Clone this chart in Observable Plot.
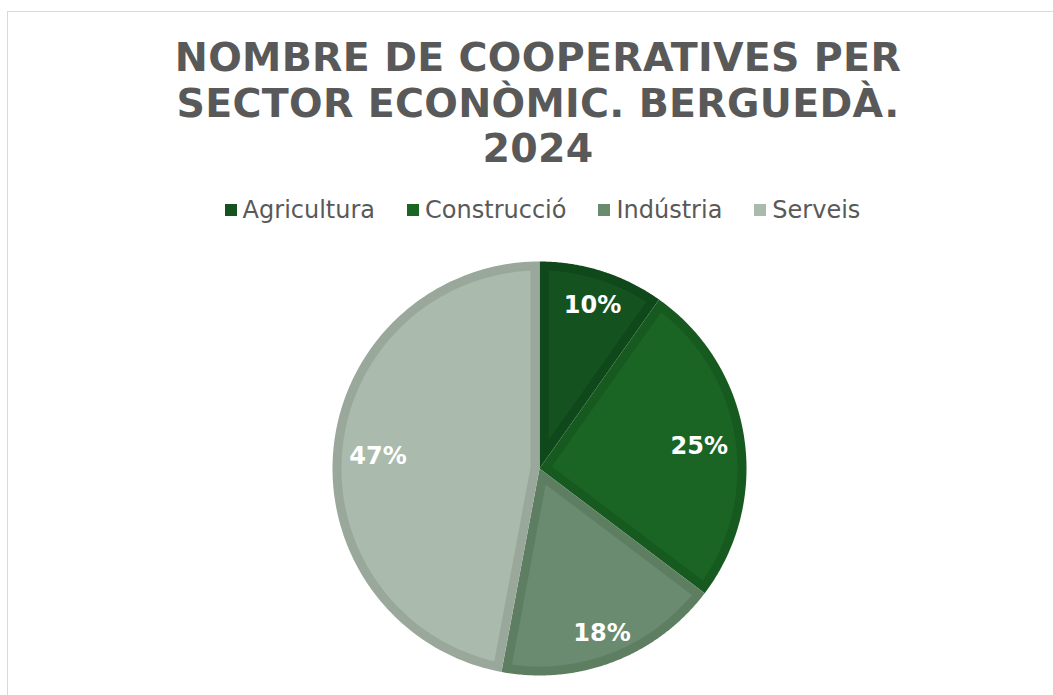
<!DOCTYPE html>
<html>
<head>
<meta charset="utf-8">
<script src="https://cdn.jsdelivr.net/npm/d3@7"></script>
<script src="https://cdn.jsdelivr.net/npm/@observablehq/plot@0.6"></script>
<style>
  html, body { margin: 0; padding: 0; background: #fff; }
  #wrap { position: relative; width: 1053px; height: 695px; overflow: hidden; background: #fff; }
  #frame { position: absolute; left: 7px; top: 11px; width: 1080px; height: 720px; border: 1px solid #d9d9d9; box-sizing: border-box; }
  #title { position: absolute; left: 0; top: 35px; width: 1076px; text-align: center; font-family: "DejaVu Sans", sans-serif; font-weight: bold; font-size: 39.5px; line-height: 45.5px; color: #595959; letter-spacing: 0.3px; }
  #legend { position: absolute; left: 0; top: 196px; width: 1085px; display: flex; justify-content: center; align-items: center; gap: 32px; font-family: "DejaVu Sans", sans-serif; font-size: 24px; color: #595959; }
  #legend .item { display: flex; align-items: center; }
  #legend .sw { width: 12px; height: 12px; margin-right: 6px; }
  #chart { position: absolute; left: 0; top: 240px; }
</style>
</head>
<body>
<div id="wrap">
  <div id="frame"></div>
  <div id="title">NOMBRE DE COOPERATIVES PER<br>SECTOR ECONÒMIC. BERGUEDÀ.<br>2024</div>
  <div id="legend"></div>
  <div id="chart"></div>
</div>
<script>
// Data
const sectors = ["Agricultura", "Construcció", "Indústria", "Serveis"];
const counts = [5, 13, 9, 24];
const fills = ["#14521f", "#1a6424", "#6a8b6f", "#aabaac"];
const borders = ["#0f481a", "#165a1f", "#5e7e62", "#99a89b"];

// Legend
const legend = document.getElementById("legend");
sectors.forEach((s, i) => {
  const it = document.createElement("div");
  it.className = "item";
  const sw = document.createElement("div");
  sw.className = "sw";
  sw.style.background = fills[i];
  const t = document.createElement("span");
  t.textContent = s;
  it.appendChild(sw); it.appendChild(t);
  legend.appendChild(it);
});

// Pie geometry (in pixel-like units, y up)
const R = 207;      // radius
const BAND = 9;     // inner border band width
const total = d3.sum(counts);
const arcs = d3.pie().sort(null).value(d => d)(counts);

function pt(a, r) { return {x: r * Math.sin(a), y: r * Math.cos(a)}; }
function wedge(a0, a1, r, n = 120) {
  const pts = [{x: 0, y: 0}];
  for (let k = 0; k <= n; k++) pts.push(pt(a0 + (a1 - a0) * k / n, r));
  return pts;
}
function inset(a0, a1, r, d, n = 120) {
  const th = a1 - a0;
  const am = (a0 + a1) / 2;
  const rin = r - d;
  const apex = pt(am, d / Math.sin(Math.min(th, Math.PI) / 2));
  const da = Math.asin(d / rin);
  const pts = [apex];
  for (let k = 0; k <= n; k++) pts.push(pt(a0 + da + (a1 - a0 - 2 * da) * k / n, rin));
  return pts;
}

const marks = [];
arcs.forEach((a, i) => {
  marks.push(Plot.line(wedge(a.startAngle, a.endAngle, R), {x: "x", y: "y", fill: borders[i], stroke: "none", curve: "linear-closed"}));
  marks.push(Plot.line(inset(a.startAngle, a.endAngle, R, BAND), {x: "x", y: "y", fill: fills[i], stroke: "none", curve: "linear-closed"}));
});

const labels = arcs.map((a, i) => {
  const am = (a.startAngle + a.endAngle) / 2;
  const half = Math.abs(Math.sin(am)) * 32 + Math.abs(Math.cos(am)) * 11;
  const p = pt(am, R - 12 - half);
  return {x: p.x, y: p.y, text: Math.round(counts[i] / total * 100) + "%"};
});
marks.push(Plot.text(labels, {x: "x", y: "y", dy: 3, text: "text", fill: "white", fontWeight: "bold", fontSize: 24, fontFamily: "DejaVu Sans, sans-serif"}));

const plot = Plot.plot({
  width: 1053,
  height: 455,
  margin: 0,
  x: {axis: null, domain: [-539, 514]},
  y: {axis: null, domain: [-227, 228]},
  style: {background: "transparent"},
  marks
});
document.getElementById("chart").appendChild(plot);
</script>
</body>
</html>
